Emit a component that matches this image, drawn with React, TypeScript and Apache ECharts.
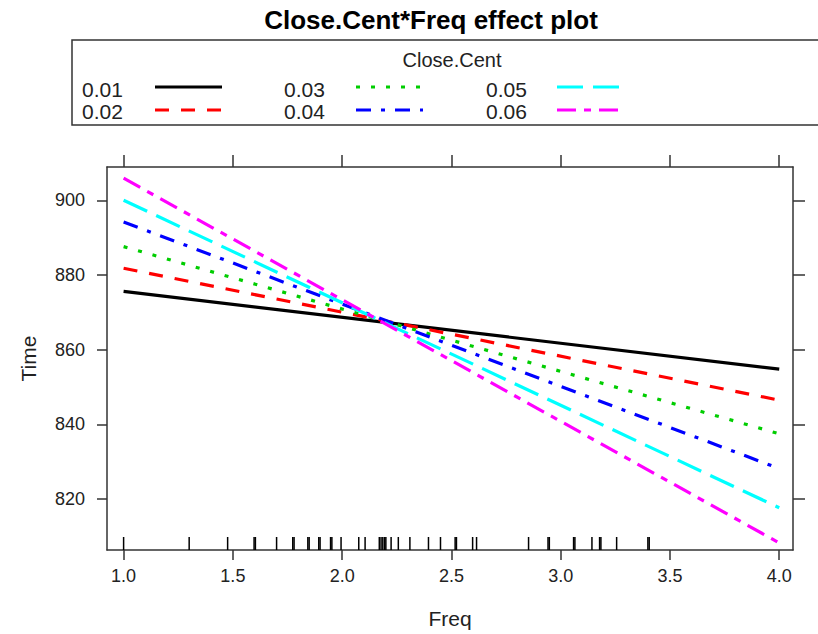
import React, { useEffect, useRef } from "react";
import * as echarts from "echarts";

const closeCentLevels = ["0.01", "0.02", "0.03", "0.04", "0.05", "0.06"];
const freqEnds = [1.0, 4.0];
const timeAt1 = [875.6, 881.8, 887.6, 894.2, 900.0, 905.9];
const timeAt4 = [854.8, 846.5, 837.5, 828.2, 817.7, 808.3];
const lineColors = ["#000000", "#ff0000", "#00cd00", "#0000ff", "#00ffff", "#ff00ff"];
const lineDashes: (number[] | "solid")[] = [
  "solid",
  [14, 12],
  [4, 11],
  [15, 10, 4, 10],
  [26, 10],
  [19, 8, 7, 8],
];
const freqTicks = [1.0, 1.5, 2.0, 2.5, 3.0, 3.5, 4.0];
const timeTicks = [820, 840, 860, 880, 900];
const rugFreq = [
  1.0, 1.3, 1.476, 1.597, 1.603, 1.7, 1.774, 1.78, 1.843, 1.849, 1.893, 1.899,
  1.947, 1.953, 1.995, 2.076, 2.105, 2.17, 2.178, 2.186, 2.194, 2.2, 2.224,
  2.257, 2.31, 2.395, 2.45, 2.517, 2.523, 2.597, 2.615, 2.853, 2.942, 2.948,
  3.059, 3.065, 3.143, 3.178, 3.184, 3.256, 3.399, 3.405,
];

const X_MIN = 0.924;
const X_MAX = 4.063;
const Y_MIN = 806.4;
const Y_MAX = 908.9;

const FONT = '"Liberation Sans", Arial, sans-serif';
const TEXT_COLOR = "#222";

export default function App() {
  const ref = useRef<HTMLDivElement>(null);
  useEffect(() => {
    if (!ref.current) return;
    const chart = echarts.init(ref.current, undefined, { renderer: "svg" });

    const axisLineStyle = { color: "#333", width: 1.5 };
    const lineSeries = closeCentLevels.map((lvl, i) => ({
      name: lvl,
      type: "line",
      xAxisIndex: 0,
      yAxisIndex: 0,
      symbol: "none",
      silent: true,
      data: [
        [freqEnds[0], timeAt1[i]],
        [freqEnds[1], timeAt4[i]],
      ],
      lineStyle: {
        color: lineColors[i],
        width: 3.2,
        type: lineDashes[i],
        cap: "butt",
      },
      z: 3,
    }));

    const legendElems: any[] = [
      {
        type: "rect",
        shape: { x: 72, y: 40, width: 770, height: 85 },
        style: { fill: "none", stroke: "#333", lineWidth: 1.5 },
      },
      {
        type: "text",
        x: 452,
        y: 60,
        style: {
          text: "Close.Cent",
          fontSize: 20,
          fontFamily: FONT,
          fill: TEXT_COLOR,
          align: "center",
          verticalAlign: "middle",
        },
      },
    ];
    closeCentLevels.forEach((lvl, i) => {
      const col = Math.floor(i / 2);
      const row = i % 2;
      const tx = 82 + col * 202;
      const ty = 89 + row * 22;
      const lx1 = 155 + col * 201;
      const lx2 = 222 + col * 201;
      const ly = 87 + row * 23;
      legendElems.push({
        type: "text",
        x: tx,
        y: ty,
        style: {
          text: lvl,
          fontSize: 21,
          lineHeight: 21,
          fontFamily: FONT,
          fill: TEXT_COLOR,
          align: "left",
          verticalAlign: "middle",
        },
      });
      const dash = lineDashes[i];
      legendElems.push({
        type: "line",
        shape: { x1: lx1, y1: ly, x2: lx2, y2: ly },
        style: {
          stroke: lineColors[i],
          lineWidth: 3.2,
          lineDash: dash === "solid" ? null : dash,
          lineCap: "butt",
        },
      });
    });

    const option: any = {
      animation: false,
      backgroundColor: "#fff",
      title: {
        text: "Close.Cent*Freq effect plot",
        left: 426,
        top: 2,
        textAlign: "center",
        textStyle: {
          fontFamily: FONT,
          fontSize: 26,
          fontWeight: "bold",
          color: "#000",
        },
      },
      grid: { left: 107, right: 25, top: 167, bottom: 82, containLabel: false },
      xAxis: [
        {
          type: "value",
          min: X_MIN,
          max: X_MAX,
          position: "bottom",
          name: "Freq",
          nameLocation: "middle",
          nameGap: 58,
          nameTextStyle: { fontFamily: FONT, fontSize: 21, color: TEXT_COLOR },
          axisLine: { show: true, onZero: false, lineStyle: axisLineStyle },
          axisTick: {
            show: true,
            inside: false,
            length: 10,
            customValues: freqTicks,
            lineStyle: axisLineStyle,
          },
          axisLabel: {
            show: true,
            customValues: freqTicks,
            formatter: (v: number) => v.toFixed(1),
            margin: 17,
            fontFamily: FONT,
            fontSize: 18,
            color: TEXT_COLOR,
          },
          splitLine: { show: false },
        },
        {
          type: "value",
          min: X_MIN,
          max: X_MAX,
          position: "top",
          axisLine: { show: true, onZero: false, lineStyle: axisLineStyle },
          axisTick: {
            show: true,
            inside: false,
            length: 12,
            customValues: freqTicks,
            lineStyle: axisLineStyle,
          },
          axisLabel: { show: false },
          splitLine: { show: false },
        },
      ],
      yAxis: [
        {
          type: "value",
          min: Y_MIN,
          max: Y_MAX,
          position: "left",
          name: "Time",
          nameLocation: "middle",
          nameGap: 68,
          nameRotate: 90,
          nameTextStyle: { fontFamily: FONT, fontSize: 21, color: TEXT_COLOR },
          axisLine: { show: true, onZero: false, lineStyle: axisLineStyle },
          axisTick: {
            show: true,
            inside: false,
            length: 10,
            customValues: timeTicks,
            lineStyle: axisLineStyle,
          },
          axisLabel: {
            show: true,
            customValues: timeTicks,
            margin: 22,
            fontFamily: FONT,
            fontSize: 18,
            color: TEXT_COLOR,
          },
          splitLine: { show: false },
        },
        {
          type: "value",
          min: Y_MIN,
          max: Y_MAX,
          position: "right",
          axisLine: { show: true, onZero: false, lineStyle: axisLineStyle },
          axisTick: {
            show: true,
            inside: false,
            length: 12,
            customValues: timeTicks,
            lineStyle: axisLineStyle,
          },
          axisLabel: { show: false },
          splitLine: { show: false },
        },
      ],
      graphic: legendElems,
      series: [
        ...lineSeries,
        {
          type: "custom",
          name: "rug",
          xAxisIndex: 0,
          yAxisIndex: 0,
          silent: true,
          data: rugFreq.map((v) => [v, Y_MIN]),
          renderItem: (params: any, api: any) => {
            const p = api.coord([api.value(0), api.value(1)]);
            return {
              type: "line",
              shape: { x1: p[0], y1: p[1], x2: p[0], y2: p[1] - 13 },
              style: { stroke: "#000", lineWidth: 1.5 },
            };
          },
          z: 2,
        },
      ],
    };
    chart.setOption(option);
    return () => chart.dispose();
  }, []);

  return (
    <div
      ref={ref}
      style={{ position: "absolute", left: 0, top: 0, width: 818, height: 634, background: "#fff" }}
    />
  );
}
